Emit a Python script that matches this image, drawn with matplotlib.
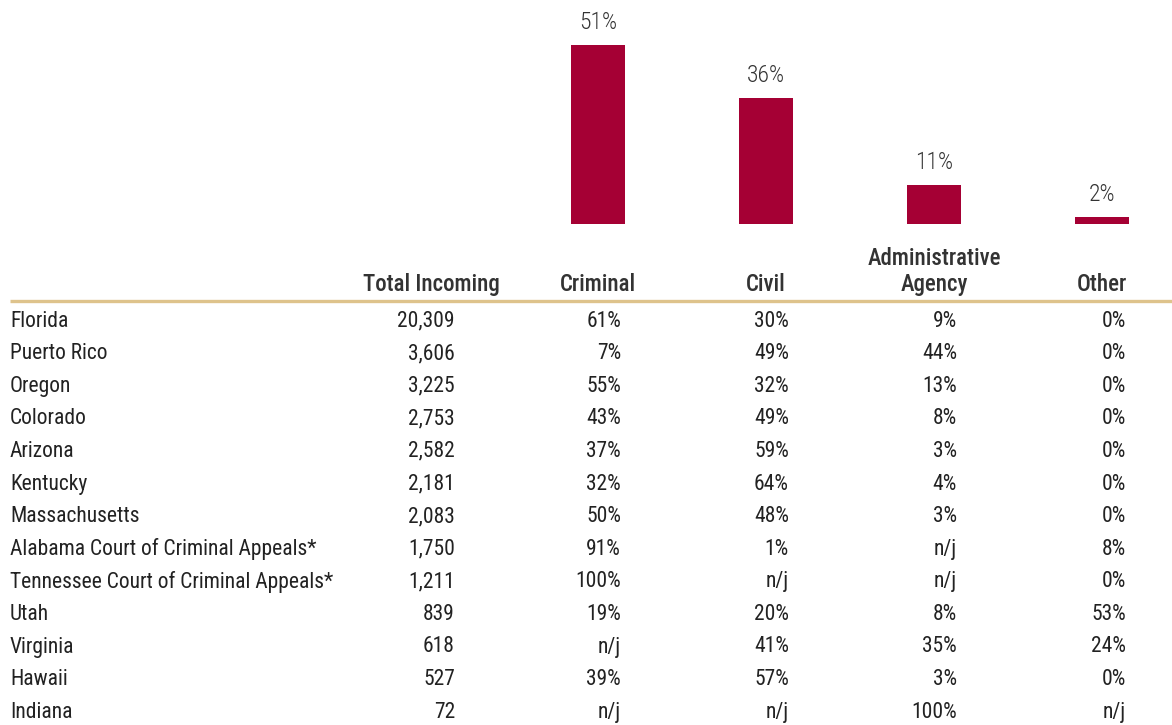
import matplotlib.pyplot as plt
from matplotlib import font_manager

# case-type shares shown as bars above the table
case_types = ["Criminal", "Civil", "Administrative\nAgency", "Other"]
share_pct = [51, 36, 11, 2]

courts = [
    "Florida", "Puerto Rico", "Oregon", "Colorado", "Arizona", "Kentucky",
    "Massachusetts", "Alabama Court of Criminal Appeals*",
    "Tennessee Court of Criminal Appeals*", "Utah", "Virginia", "Hawaii", "Indiana",
]
total_incoming = ["20,309", "3,606", "3,225", "2,753", "2,582", "2,181", "2,083",
                  "1,750", "1,211", "839", "618", "527", "72"]
criminal = ["61%", "7%", "55%", "43%", "37%", "32%", "50%", "91%", "100%",
            "19%", "n/j", "39%", "n/j"]
civil = ["30%", "49%", "32%", "49%", "59%", "64%", "48%", "1%", "n/j",
         "20%", "41%", "57%", "n/j"]
admin = ["9%", "44%", "13%", "8%", "3%", "4%", "3%", "n/j", "n/j",
         "8%", "35%", "3%", "100%"]
other = ["0%", "0%", "0%", "0%", "0%", "0%", "0%", "8%", "0%",
         "53%", "24%", "0%", "n/j"]

# pick a narrow sans that is installed
names = {f.name for f in font_manager.fontManager.ttflist}
base = "DejaVu Sans"
for cand in ["Arial Narrow", "Liberation Sans Narrow", "Roboto Condensed",
             "Archivo Narrow", "PT Sans Narrow"]:
    if cand in names:
        base = cand
        break
plt.rcParams["font.family"] = [base, "DejaVu Sans"]

BAR = "#A50034"
TXT = "#222222"
HEAD = "#333333"
W, H = 1172, 725
fs = 15.5
fs_head = 16.5

fig = plt.figure(figsize=(W / 100, H / 100), dpi=100)

# table layer in pixel units
tab = fig.add_axes([0, 0, 1, 1])
tab.set_xlim(0, W)
tab.set_ylim(H, 0)
tab.axis("off")

col_right = [455, 621, 789, 957, 1126]
col_center = [598, 766, 934, 1102]
row0, step = 321, 32.6

tab.text(500, 284, "Total Incoming", ha="right", va="center", fontsize=fs_head,
         color=HEAD, fontweight="medium")
for cx, name in zip(col_center, case_types):
    lines = name.split("\n")
    for k, line in enumerate(reversed(lines)):
        tab.text(cx, 284 - 26 * k, line, ha="center", va="center", fontsize=fs_head,
                 color=HEAD, fontweight="medium")

tab.plot([10, W], [301, 301], color="#DEC38C", lw=2.4, solid_capstyle="butt")

for i, court in enumerate(courts):
    y = row0 + i * step
    tab.text(10, y, court, ha="left", va="center", fontsize=fs, color=TXT)
    vals = [total_incoming[i], criminal[i], civil[i], admin[i], other[i]]
    for xr, v in zip(col_right, vals):
        tab.text(xr, y, v, ha="right", va="center", fontsize=fs, color=TXT)

# bar layer, 168 px per category, bars 54 px wide
spacing = 168
left_px = col_center[0] - spacing / 2
ax = fig.add_axes([left_px / W, 1 - 224 / H, 4 * spacing / W, 210.6 / H])
ax.set_xlim(-0.5, 3.5)
ax.set_ylim(0, 60)
ax.axis("off")
bars = ax.bar(range(len(share_pct)), share_pct, width=54 / spacing, color=BAR)
for b, v in zip(bars, share_pct):
    ax.annotate(f"{v}%", (b.get_x() + b.get_width() / 2, v), xytext=(0, 8),
                textcoords="offset points", ha="center", va="bottom",
                fontsize=17, color=HEAD, fontweight="light")

fig.savefig("out.png", dpi=100)
